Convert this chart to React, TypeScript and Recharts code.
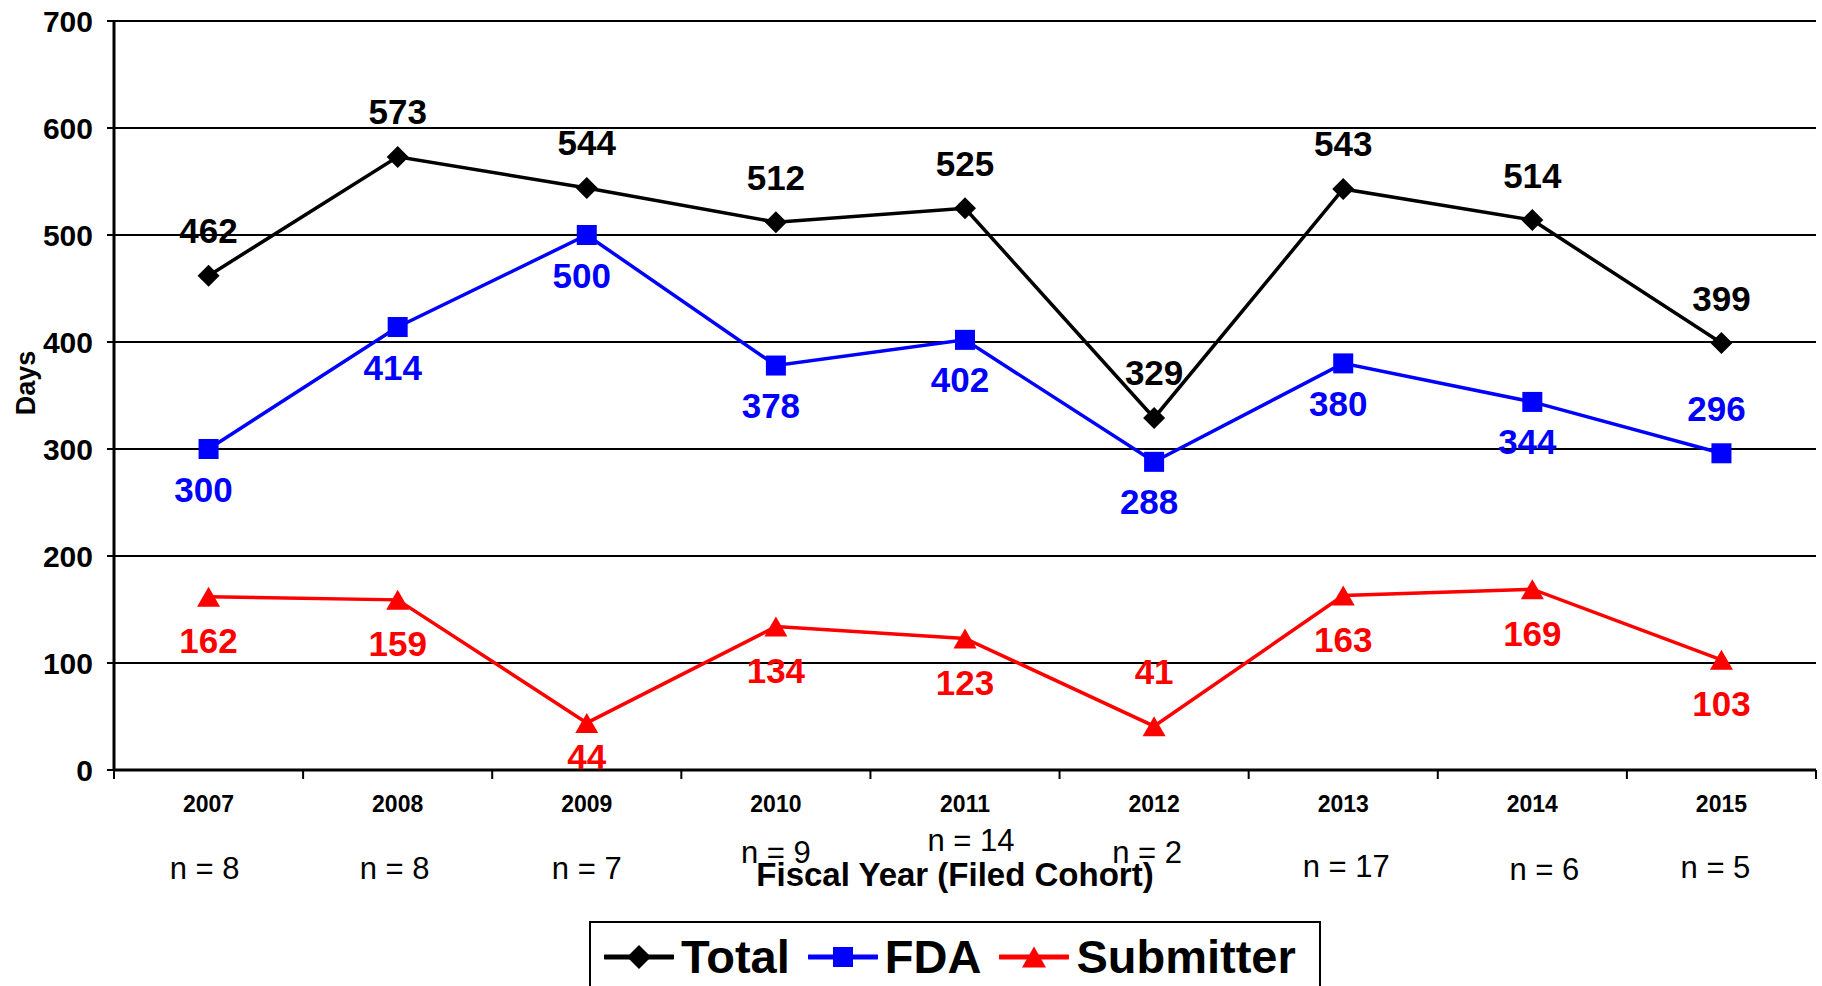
import React from 'react';
import {
  LineChart,
  Line,
  XAxis,
  YAxis,
  CartesianGrid,
  Legend,
  LabelList,
} from 'recharts';

const years = ['2007', '2008', '2009', '2010', '2011', '2012', '2013', '2014', '2015'];
const totalDays = [462, 573, 544, 512, 525, 329, 543, 514, 399];
const fdaDays = [300, 414, 500, 378, 402, 288, 380, 344, 296];
const submitterDays = [162, 159, 44, 134, 123, 41, 163, 169, 103];
const cohortSizes = [8, 8, 7, 9, 14, 2, 17, 6, 5];
const yTicks = [0, 100, 200, 300, 400, 500, 600, 700];

const data = years.map((year, i) => ({
  year,
  total: totalDays[i],
  fda: fdaDays[i],
  submitter: submitterDays[i],
}));

const FONT = '"Liberation Sans", Arial, Helvetica, sans-serif';
const W = 1822;
const H = 986;
const MARGIN = { top: 21, right: 6, left: 0, bottom: 156 };
const Y_AXIS_W = 114;
const X_AXIS_H = 60;
const STEP = (W - MARGIN.left - Y_AXIS_W - MARGIN.right) / years.length;

// the "n = x" labels sit a bit out of line in the original
const nDx = [-4, -3, 0, 0, 6, -7, 3, 12, -6];
const nDy = [98, 98, 98, 82, 70, 82, 96, 99, 97];

const Diamond = ({ cx, cy, r = 11, fill = '#000' }: any) => (
  <path d={`M${cx},${cy - r}L${cx + r},${cy}L${cx},${cy + r}L${cx - r},${cy}Z`} fill={fill} />
);

const Square = ({ cx, cy, s = 20, fill = '#0000FF' }: any) => (
  <rect x={cx - s / 2} y={cy - s / 2} width={s} height={s} fill={fill} />
);

const Triangle = ({ cx, cy, w = 23, h = 20, fill = '#FF0000' }: any) => (
  <path d={`M${cx},${cy - h / 2}L${cx + w / 2},${cy + h / 2}L${cx - w / 2},${cy + h / 2}Z`} fill={fill} />
);

// label placement: default offset per series, with a few flipped
const makeLabel = (color: string, dy: number, dx: number, flips: Record<number, number>) =>
  (props: any) => {
    const { x, y, value, index } = props;
    const off = flips[index] !== undefined ? flips[index] : dy;
    return (
      <text
        x={x + dx}
        y={y + off}
        textAnchor="middle"
        dominantBaseline="central"
        fontFamily={FONT}
        fontWeight="bold"
        fontSize={35}
        fill={color}
      >
        {value}
      </text>
    );
  };

const XTick = ({ x, y, payload }: any) => {
  const i = payload.index;
  const axisY = y;
  return (
    <g>
      <line x1={x - STEP / 2} y1={axisY} x2={x - STEP / 2} y2={axisY + 9} stroke="#000" strokeWidth={2} />
      {i === years.length - 1 && (
        <line x1={x + STEP / 2} y1={axisY} x2={x + STEP / 2} y2={axisY + 9} stroke="#000" strokeWidth={2} />
      )}
      <text
        x={x}
        y={axisY + 34}
        textAnchor="middle"
        dominantBaseline="central"
        fontFamily={FONT}
        fontWeight="bold"
        fontSize={23}
        fill="#000"
      >
        {payload.value}
      </text>
      <text
        x={x + nDx[i]}
        y={axisY + nDy[i]}
        textAnchor="middle"
        dominantBaseline="central"
        fontFamily={FONT}
        fontSize={31}
        fill="#000"
      >
        {`n = ${cohortSizes[i]}`}
      </text>
    </g>
  );
};

const legendItems = [
  { name: 'Total', color: '#000', icon: (cx: number, cy: number) => <Diamond cx={cx} cy={cy} r={12} fill="#000" /> },
  { name: 'FDA', color: '#0000FF', icon: (cx: number, cy: number) => <Square cx={cx} cy={cy} s={20} fill="#0000FF" /> },
  { name: 'Submitter', color: '#FF0000', icon: (cx: number, cy: number) => <Triangle cx={cx} cy={cy} w={24} h={21} fill="#FF0000" /> },
];

const LegendBox = () => (
  <div
    style={{
      boxSizing: 'border-box',
      width: 732,
      height: 80,
      border: '2px solid #000',
      background: '#fff',
      display: 'flex',
      alignItems: 'flex-start',
      paddingLeft: 13,
      paddingTop: 8,
      fontFamily: FONT,
      fontWeight: 'bold',
      fontSize: 47,
      lineHeight: '52px',
      color: '#000',
    }}
  >
    {legendItems.map((item, i) => (
      <div key={item.name} style={{ display: 'flex', alignItems: 'center', marginLeft: i === 0 ? 0 : 18 }}>
        <svg width={70} height={52}>
          <line x1={1} y1={26} x2={69} y2={26} stroke={item.color} strokeWidth={5} strokeLinecap="round" />
          {item.icon(35, 26)}
        </svg>
        <span style={{ marginLeft: 7 }}>{item.name}</span>
      </div>
    ))}
  </div>
);

export default function App() {
  return (
    <div style={{ position: 'absolute', left: 0, top: 0, width: W, height: H, background: '#fff', overflow: 'hidden' }}>
      <LineChart width={W} height={H} data={data} margin={MARGIN}>
        <CartesianGrid vertical={false} stroke="#000" strokeWidth={2} strokeOpacity={1} />
        <XAxis
          dataKey="year"
          scale="band"
          height={X_AXIS_H}
          axisLine={{ stroke: '#000', strokeWidth: 3 }}
          tickLine={false}
          tickSize={0}
          tickMargin={0}
          interval={0}
          tick={<XTick />}
          label={{
            content: (p: any) => {
              const vb = p.viewBox;
              return (
                <text
                  x={vb.x + vb.width / 2 - 10}
                  y={vb.y + 104}
                  textAnchor="middle"
                  dominantBaseline="central"
                  fontFamily={FONT}
                  fontWeight="bold"
                  fontSize={33}
                  fill="#000"
                >
                  Fiscal Year (Filed Cohort)
                </text>
              );
            },
          }}
        />
        <YAxis
          width={Y_AXIS_W}
          domain={[0, 700]}
          ticks={yTicks}
          interval={0}
          axisLine={{ stroke: '#000', strokeWidth: 3 }}
          tickLine={{ stroke: '#000', strokeWidth: 2 }}
          tickSize={7}
          tickMargin={14}
          tick={{ fontFamily: FONT, fontWeight: 'bold', fontSize: 30, fill: '#000' }}
          label={{
            content: (p: any) => {
              const vb = p.viewBox;
              const cx = vb.x + 26;
              const cy = 383;
              return (
                <text
                  x={cx}
                  y={cy}
                  transform={`rotate(-90 ${cx} ${cy})`}
                  textAnchor="middle"
                  dominantBaseline="central"
                  fontFamily={FONT}
                  fontWeight="bold"
                  fontSize={27}
                  fill="#000"
                >
                  Days
                </text>
              );
            },
          }}
        />
        <YAxis
          yAxisId="right"
          orientation="right"
          width={0}
          domain={[0, 700]}
          tick={false}
          tickLine={false}
          axisLine={{ stroke: '#000', strokeWidth: 2 }}
        />
        <Legend
          layout="horizontal"
          verticalAlign="middle"
          align="center"
          wrapperStyle={{ top: 921, left: 589, width: 732, height: 80 }}
          content={() => <LegendBox />}
        />
        <Line
          dataKey="total"
          name="Total"
          stroke="#000"
          strokeWidth={3.5}
          isAnimationActive={false}
          dot={(p: any) => <Diamond key={`t${p.index}`} cx={p.cx} cy={p.cy} r={11} fill="#000" />}
          activeDot={false}
        >
          <LabelList dataKey="total" content={makeLabel('#000', -45, 0, {})} />
        </Line>
        <Line
          dataKey="fda"
          name="FDA"
          stroke="#0000FF"
          strokeWidth={3.5}
          isAnimationActive={false}
          dot={(p: any) => <Square key={`f${p.index}`} cx={p.cx} cy={p.cy} s={20} fill="#0000FF" />}
          activeDot={false}
        >
          <LabelList dataKey="fda" content={makeLabel('#0000FF', 40, -5, { 8: -45 })} />
        </Line>
        <Line
          dataKey="submitter"
          name="Submitter"
          stroke="#FF0000"
          strokeWidth={3.5}
          isAnimationActive={false}
          dot={(p: any) => <Triangle key={`s${p.index}`} cx={p.cx} cy={p.cy} w={23} h={20} fill="#FF0000" />}
          activeDot={false}
        >
          <LabelList dataKey="submitter" content={makeLabel('#FF0000', 44, 0, { 2: 34, 5: -55 })} />
        </Line>
      </LineChart>
    </div>
  );
}
